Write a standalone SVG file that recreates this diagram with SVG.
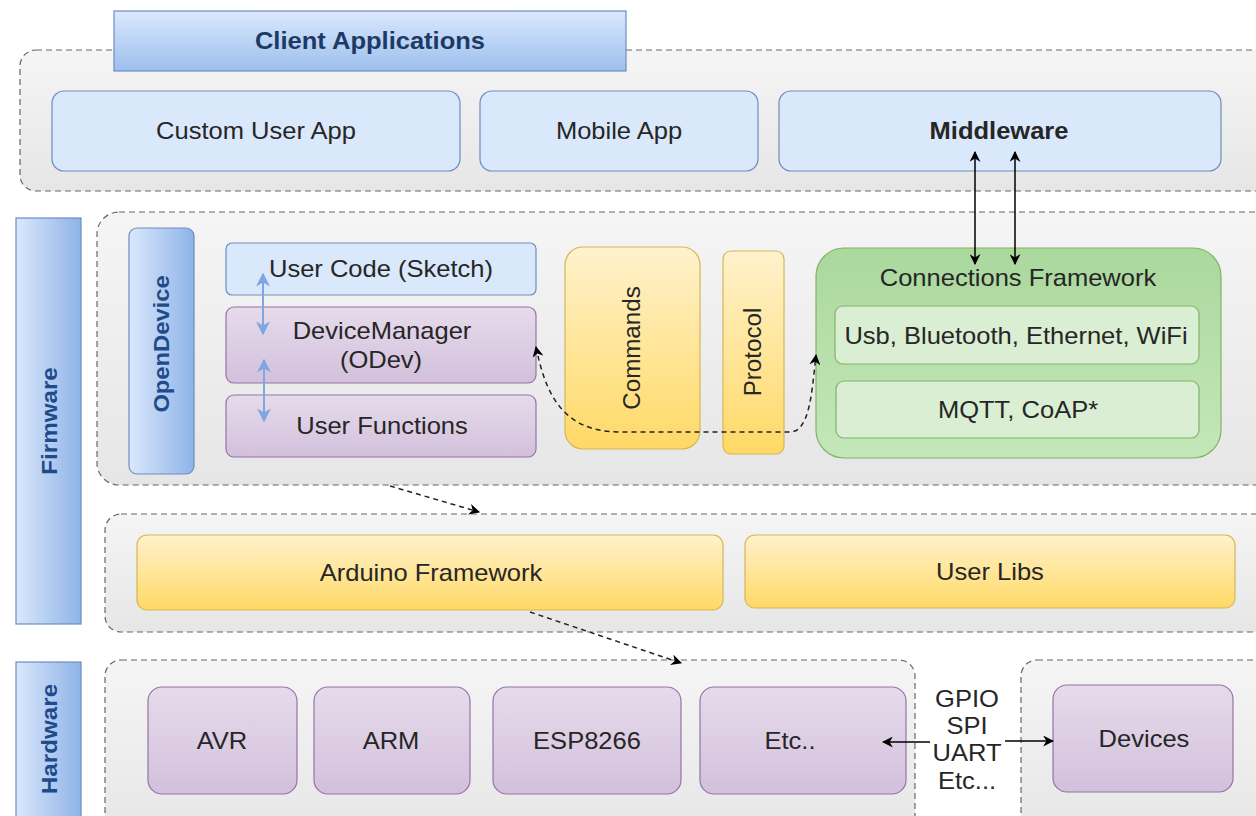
<svg xmlns="http://www.w3.org/2000/svg" width="1256" height="816" viewBox="0 0 1256 816">
<defs>
<linearGradient id="gGrey" x1="0" y1="0" x2="0" y2="1"><stop offset="0" stop-color="#f5f5f5"/><stop offset="1" stop-color="#e6e6e6"/></linearGradient>
<linearGradient id="gBlueV" x1="0" y1="0" x2="0" y2="1"><stop offset="0" stop-color="#dae8fc"/><stop offset="1" stop-color="#9dbfee"/></linearGradient>
<linearGradient id="gBlueH" x1="0" y1="0" x2="1" y2="0"><stop offset="0" stop-color="#dae8fc"/><stop offset="1" stop-color="#8fb3e8"/></linearGradient>
<linearGradient id="gYellow" x1="0" y1="0" x2="0" y2="1"><stop offset="0" stop-color="#fff2cc"/><stop offset="1" stop-color="#ffd966"/></linearGradient>
<linearGradient id="gGreen" x1="0" y1="0" x2="0" y2="1"><stop offset="0" stop-color="#aad89d"/><stop offset="1" stop-color="#c4e7b9"/></linearGradient>
<linearGradient id="gPurple" x1="0" y1="0" x2="0" y2="1"><stop offset="0" stop-color="#e6dbeb"/><stop offset="1" stop-color="#d2c0dc"/></linearGradient>
<marker id="ah" viewBox="0 0 10 10" refX="9" refY="5" markerWidth="11" markerHeight="11" markerUnits="userSpaceOnUse" orient="auto-start-reverse"><path d="M0,0 L10,5 L0,10 L3,5 Z" fill="#000"/></marker>
<marker id="ahb" viewBox="0 0 10 10" refX="9" refY="5" markerWidth="14" markerHeight="14" markerUnits="userSpaceOnUse" orient="auto-start-reverse"><path d="M0,0 L10,5 L0,10 L3,5 Z" fill="#7ea6e0"/></marker>
<style>
text{font-family:"Liberation Sans",Arial,sans-serif;font-size:23px;fill:#262626;text-anchor:middle;dominant-baseline:central}
.cont{fill:url(#gGrey);stroke:#666;stroke-width:1.2;stroke-dasharray:6 4}
.blue{fill:#dae8fc;stroke:#6c8ebf;stroke-width:1.2}
.blueg{fill:url(#gBlueH);stroke:#6c8ebf;stroke-width:1.2}
.purple{fill:url(#gPurple);stroke:#9673a6;stroke-width:1.2}
.yellow{fill:url(#gYellow);stroke:#d6b656;stroke-width:1.2}
.green{fill:url(#gGreen);stroke:#82b366;stroke-width:1.2}
.lgreen{fill:#d9eed3;stroke:#82b366;stroke-width:1.2}
.lbl{font-weight:bold;fill:#1f4b8a;font-size:22px}
.conn{fill:none;stroke:#000;stroke-width:1.5}
.dash{fill:none;stroke:#222;stroke-width:1.5;stroke-dasharray:5 4}
</style>
</defs>

<g id="client-container"><rect class="cont" x="20" y="50" width="1250" height="141" rx="16"/></g>
<g id="client-applications"><rect x="114" y="11" width="512" height="60" fill="url(#gBlueV)" stroke="#6c8ebf" stroke-width="1.2"/><text transform="translate(370 41) scale(1.11 1)" font-weight="bold" style="fill:#1d3a66">Client Applications</text></g>
<g id="custom-user-app"><rect class="blue" x="52" y="91" width="408" height="80" rx="12"/><text transform="translate(256 131) scale(1.11 1)">Custom User App</text></g>
<g id="mobile-app"><rect class="blue" x="480" y="91" width="278" height="80" rx="12"/><text transform="translate(619 131) scale(1.11 1)">Mobile App</text></g>
<g id="middleware"><rect class="blue" x="779" y="91" width="442" height="80" rx="12"/><text transform="translate(999 131) scale(1.11 1)" font-weight="bold">Middleware</text></g>

<g id="firmware-label"><rect class="blueg" x="16" y="218" width="65" height="406"/><text transform="translate(49 421) rotate(-90) scale(1.1 1)" class="lbl">Firmware</text></g>
<g id="hardware-label"><rect class="blueg" x="16" y="662" width="65" height="170"/><text transform="translate(49 739) rotate(-90) scale(1.1 1)" class="lbl">Hardware</text></g>

<g id="opendevice-container"><rect class="cont" x="97" y="212" width="1180" height="273" rx="22"/></g>
<g id="opendevice"><rect class="blueg" x="129" y="228" width="65" height="246" rx="8"/><text transform="translate(161 344) rotate(-90) scale(1.08 1)" class="lbl">OpenDevice</text></g>
<g id="user-code"><rect class="blue" x="226" y="243" width="310" height="52" rx="6"/><text transform="translate(381 269) scale(1.11 1)">User Code (Sketch)</text></g>
<g id="device-manager"><rect class="purple" x="226" y="307" width="310" height="76" rx="8"/><text transform="translate(382 331) scale(1.11 1)">DeviceManager</text><text transform="translate(381 360) scale(1.11 1)">(ODev)</text></g>
<g id="user-functions"><rect class="purple" x="226" y="395" width="310" height="62" rx="8"/><text transform="translate(382 426) scale(1.11 1)">User Functions</text></g>
<g id="commands"><rect class="yellow" x="565" y="247" width="135" height="202" rx="18"/><text transform="translate(632 348) rotate(-90) scale(1.05 1)">Commands</text></g>
<g id="protocol"><rect class="yellow" x="723" y="251" width="61" height="203" rx="8"/><text transform="translate(753 352) rotate(-90) scale(1.05 1)">Protocol</text></g>
<g id="connections-framework"><rect class="green" x="816" y="248" width="405" height="210" rx="28"/><text transform="translate(1018 278) scale(1.11 1)">Connections Framework</text></g>
<g id="usb"><rect class="lgreen" x="835" y="306" width="364" height="58" rx="8"/><text transform="translate(1016 336) scale(1.11 1)">Usb, Bluetooth, Ethernet, WiFi</text></g>
<g id="mqtt"><rect class="lgreen" x="836" y="381" width="363" height="57" rx="8"/><text transform="translate(1018 410) scale(1.11 1)">MQTT, CoAP*</text></g>

<g id="framework-container"><rect class="cont" x="105" y="514" width="1170" height="118" rx="16"/></g>
<g id="arduino-framework"><rect class="yellow" x="137" y="535" width="586" height="75" rx="10"/><text transform="translate(431 573) scale(1.11 1)">Arduino Framework</text></g>
<g id="user-libs"><rect class="yellow" x="745" y="535" width="490" height="73" rx="10"/><text transform="translate(990 572) scale(1.11 1)">User Libs</text></g>

<g id="hardware-container"><rect class="cont" x="105" y="660" width="810" height="180" rx="16"/></g>
<g id="devices-container"><rect class="cont" x="1021" y="660" width="260" height="180" rx="16"/></g>
<g id="avr"><rect class="purple" x="148" y="687" width="149" height="107" rx="14"/><text transform="translate(222 741) scale(1.11 1)">AVR</text></g>
<g id="arm"><rect class="purple" x="314" y="687" width="156" height="107" rx="14"/><text transform="translate(391 741) scale(1.11 1)">ARM</text></g>
<g id="esp8266"><rect class="purple" x="493" y="687" width="188" height="107" rx="14"/><text transform="translate(587 741) scale(1.11 1)">ESP8266</text></g>
<g id="etc"><rect class="purple" x="700" y="687" width="206" height="107" rx="14"/><text transform="translate(790 741) scale(1.11 1)">Etc..</text></g>
<g id="devices"><rect class="purple" x="1053" y="685" width="180" height="107" rx="14"/><text transform="translate(1144 739) scale(1.11 1)">Devices</text></g>
<g id="bus-label"><text transform="translate(967 699) scale(1.11 1)">GPIO</text><text transform="translate(967 726) scale(1.11 1)">SPI</text><text transform="translate(967 753) scale(1.11 1)">UART</text><text transform="translate(967 781) scale(1.11 1)">Etc...</text></g>

<g id="connectors">
<line class="conn" x1="975" y1="152" x2="975" y2="264" marker-start="url(#ah)" marker-end="url(#ah)"/>
<line class="conn" x1="1015" y1="152" x2="1015" y2="264" marker-start="url(#ah)" marker-end="url(#ah)"/>
<line x1="263" y1="274" x2="263" y2="334" stroke="#7ea6e0" stroke-width="2" marker-start="url(#ahb)" marker-end="url(#ahb)"/>
<line x1="264" y1="360" x2="264" y2="421" stroke="#7ea6e0" stroke-width="2" marker-start="url(#ahb)" marker-end="url(#ahb)"/>
<path class="dash" d="M 536 347 C 545 390 560 432 620 432 L 790 432 C 810 432 812 390 816 355" marker-start="url(#ah)" marker-end="url(#ah)"/>
<path class="dash" d="M 390 486 L 479 512" marker-end="url(#ah)"/>
<path class="dash" d="M 530 612 L 681 663" marker-end="url(#ah)"/>
<line class="conn" x1="930" y1="742" x2="883" y2="742" marker-end="url(#ah)"/>
<line class="conn" x1="1005" y1="741" x2="1053" y2="741" marker-end="url(#ah)"/>
</g>
</svg>
